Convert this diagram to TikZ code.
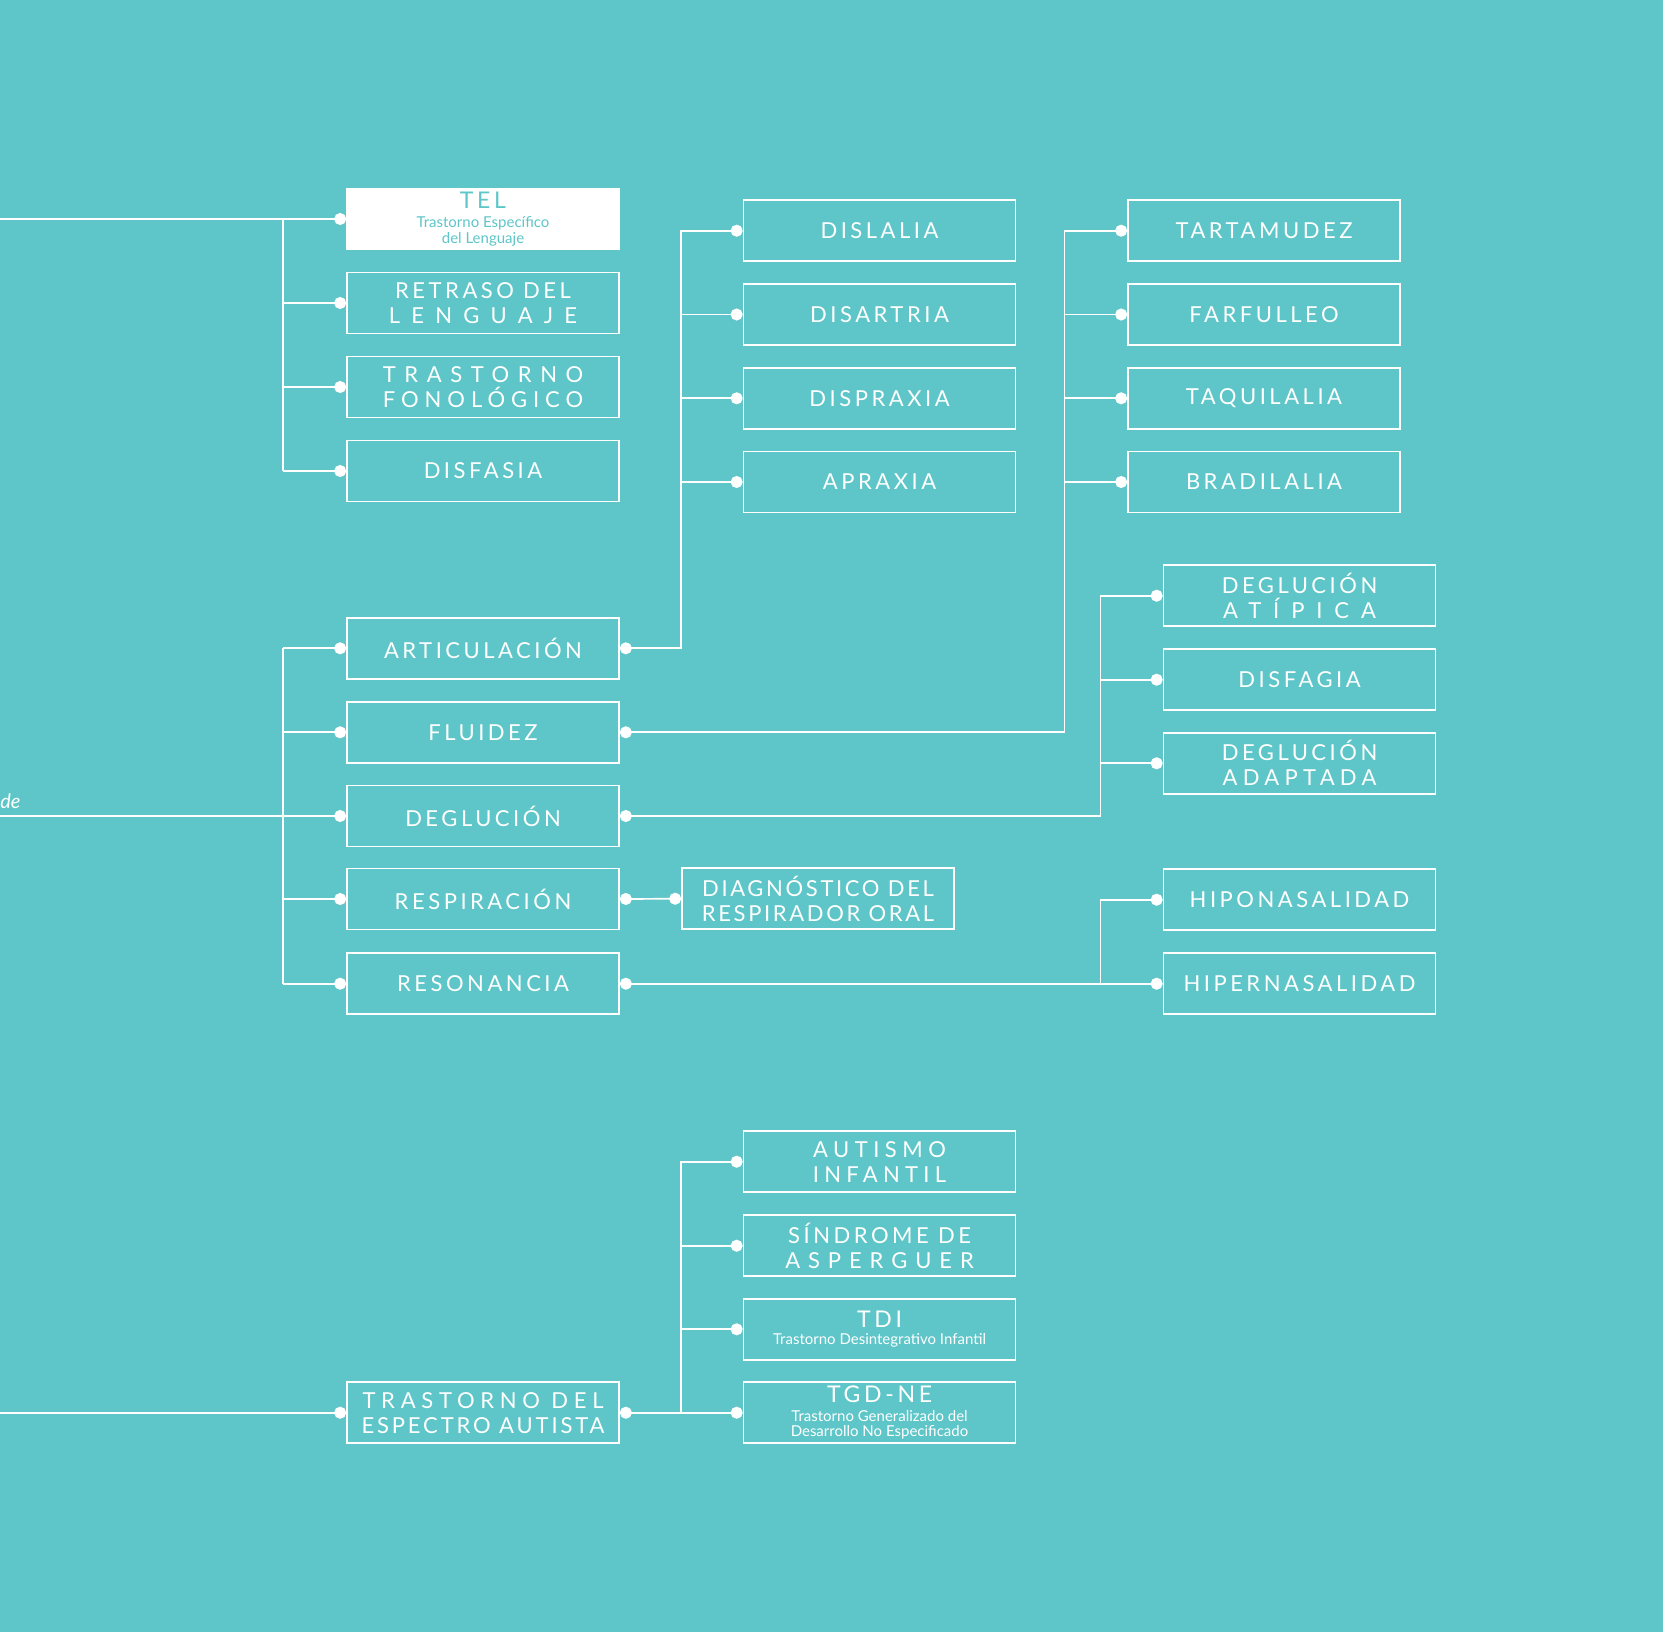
\documentclass[tikz,border=0pt]{standalone}
\usepackage{fontspec}
\setmainfont{Lato}
\newfontfamily\capsfont{Lato}[LetterSpace=16]
\newfontfamily\subfont{Lato}
\usetikzlibrary{arrows.meta}
\definecolor{bgteal}{RGB}{94,198,200}
\newcommand{\trk}[2]{{\addfontfeatures{LetterSpace=#1}#2}}
\newcommand{\hd}[1]{{\fontsize{11.5pt}{13pt}\selectfont #1}}
\newcommand{\subt}[1]{{\subfont\fontsize{7.5pt}{8pt}\selectfont #1}}
\tikzset{
  box/.style={draw=white, line width=0.85pt, minimum width=136pt, minimum height=30.5pt,
    inner sep=0pt, align=center, text=white, font=\capsfont\fontsize{11pt}{12.5pt}\selectfont},
  boxw/.style={box, fill=white, text=bgteal},
  link/.style={white, line width=0.85pt},
  dotend/.style={link, -{Circle[length=6pt]}},
  dotboth/.style={link, {Circle[length=6pt]}-{Circle[length=6pt]}}
}

\begin{document}
\begin{tikzpicture}[x=0.5pt, y=-0.5pt]
        \useasboundingbox (0,0) rectangle (1663,1632);
        \fill[bgteal] (0,0) rectangle (1663,1632);
        % trunks
        \coordinate (trA) at (283,0);
        \coordinate (trB) at (681,0);
        \coordinate (trC) at (1064.5,0);
        \coordinate (trD) at (1100.6,0);
        \coordinate (in1) at (0,219);
        \coordinate (in2) at (0,816);
        \coordinate (in3) at (0,1412.7);
        \node[anchor=base west, inner sep=0pt, text=white, font=\itshape\fontsize{10pt}{12pt}\selectfont] (de) at (0,808) {de};
        % lenguaje
        \node[boxw] (tel) at (483,219) {\hd{TEL}\\[-3.2pt]\subt{Trastorno Específico}\\[-4.65pt]\subt{del Lenguaje}};
        \node[box] (retraso) at (483,303) {RETRASO DEL\\\trk{51}{LENGUAJE}};
        \node[box] (fonologico) at (483,387) {\trk{39}{TRASTORNO}\\\trk{27}{FONOLÓGICO}};
        \node[box] (disfasia) at (483,471) {DISFASIA};
        % habla
        \node[box] (artic) at (483,648.3) {ARTICULACIÓN};
        \node[box] (fluidez) at (483,732.3) {FLUIDEZ};
        \node[box] (deglucion) at (483,816) {DEGLUCIÓN};
        \node[box] (respiracion) at (483,899) {RESPIRACIÓN};
        \node[box] (resonancia) at (483,983.7) {RESONANCIA};
        % articulacion
        \node[box] (dislalia) at (879.5,230.7) {DISLALIA};
        \node[box] (disartria) at (879.5,314.5) {DISARTRIA};
        \node[box] (dispraxia) at (879.5,398.3) {DISPRAXIA};
        \node[box] (apraxia) at (879.5,482) {APRAXIA};
        % fluidez
        \node[box] (tartamudez) at (1264,230.7) {TARTAMUDEZ};
        \node[box] (farfulleo) at (1264,314.5) {FARFULLEO};
        \node[box] (taquilalia) at (1264,398.3) {TAQUILALIA};
        \node[box] (bradilalia) at (1264,482) {BRADILALIA};
        % deglucion
        \node[box] (atipica) at (1299.5,595.7) {DEGLUCIÓN\\\trk{54}{ATÍPICA}};
        \node[box] (disfagia) at (1299.5,679.7) {DISFAGIA};
        \node[box] (adaptada) at (1299.5,763.3) {DEGLUCIÓN\\\trk{24}{ADAPTADA}};
        % respiracion y resonancia
        \node[box] (diag) at (818,898.7) {\trk{12}{DIAGNÓSTICO DEL}\\\trk{12}{RESPIRADOR ORAL}};
        \node[box] (hipo) at (1299.5,899.7) {HIPONASALIDAD};
        \node[box] (hiper) at (1299.5,983.7) {HIPERNASALIDAD};
        % espectro autista
        \node[box] (tea) at (483,1412.7) {\trk{26}{TRASTORNO DEL}\\\trk{13}{ESPECTRO AUTISTA}};
        \node[box] (autismo) at (879.5,1161.7) {\trk{25}{AUTISMO}\\\trk{24}{INFANTIL}};
        \node[box] (asperger) at (879.5,1245.7) {SÍNDROME DE\\\trk{36}{ASPERGUER}};
        \node[box] (tdi) at (879.5,1329.3) {\hd{TDI}\\[-3.85pt]\subt{Trastorno Desintegrativo Infantil}};
        \node[box] (tgdne) at (879.5,1412.7) {\hd{TGD-NE}\\[-3.3pt]\subt{Trastorno Generalizado del}\\[-4.7pt]\subt{Desarrollo No Especificado}};
        % connectors
        \draw[dotend] (in1) -- (tel.west);
        \draw[link] (trA |- tel.west) -- (trA |- disfasia.west);
        \foreach \n in {retraso,fonologico,disfasia}
            \draw[dotend] (trA |- \n.west) -- (\n.west);
        \draw[dotend] (in2) -- (deglucion.west);
        \draw[link] (trA |- artic.west) -- (trA |- resonancia.west);
        \foreach \n in {artic,fluidez,respiracion,resonancia}
            \draw[dotend] (trA |- \n.west) -- (\n.west);
        \draw[dotboth] (artic.east) -- (trB |- artic.east) |- (dislalia.west);
        \foreach \n in {disartria,dispraxia,apraxia}
            \draw[dotend] (trB |- \n.west) -- (\n.west);
        \draw[dotboth] (fluidez.east) -- (trC |- fluidez.east) |- (tartamudez.west);
        \foreach \n in {farfulleo,taquilalia,bradilalia}
            \draw[dotend] (trC |- \n.west) -- (\n.west);
        \draw[dotboth] (deglucion.east) -- (trD |- deglucion.east) |- (atipica.west);
        \foreach \n in {disfagia,adaptada}
            \draw[dotend] (trD |- \n.west) -- (\n.west);
        \draw[dotboth] (respiracion.east) -- (diag.west);
        \draw[dotboth] (resonancia.east) -- (hiper.west);
        \draw[dotend] (trD |- hiper.west) |- (hipo.west);
        \draw[dotend] (in3) -- (tea.west);
        \draw[dotboth] (tea.east) -- (trB |- tea.east) |- (autismo.west);
        \foreach \n in {asperger,tdi,tgdne}
            \draw[dotend] (trB |- \n.west) -- (\n.west);
    \end{tikzpicture}
\end{document}
